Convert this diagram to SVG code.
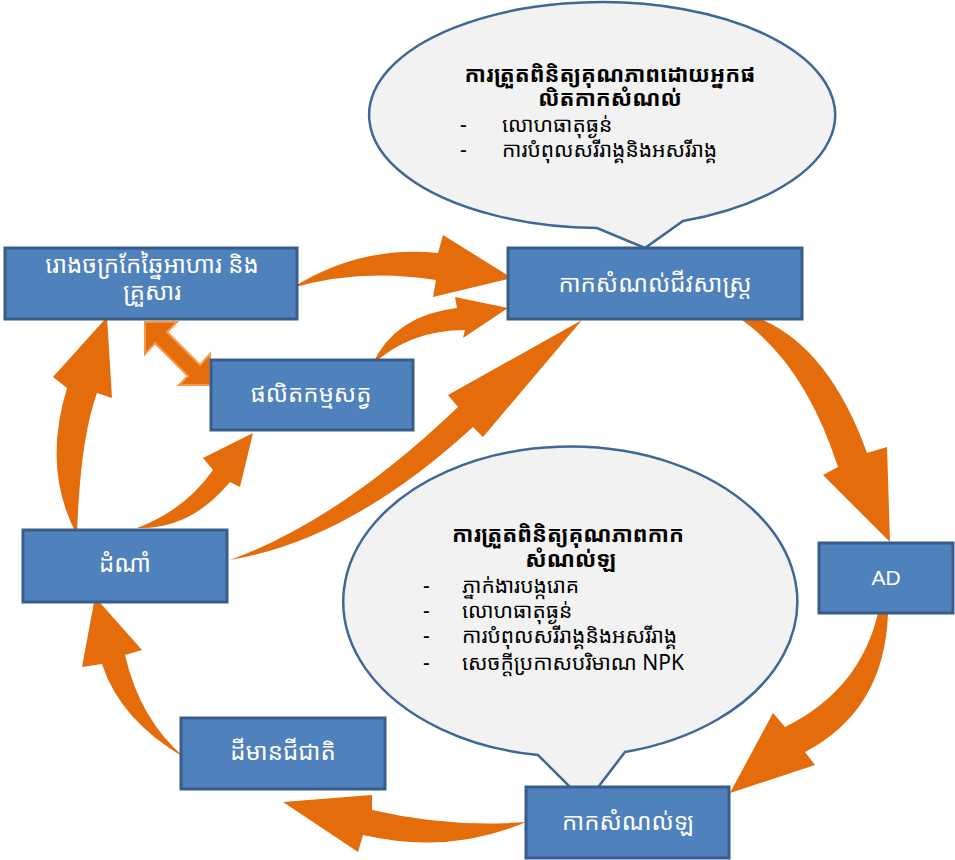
<svg xmlns="http://www.w3.org/2000/svg" width="955" height="860" viewBox="0 0 955 860">
<style>
.box{fill:#4F81BD;stroke:#385D8A;stroke-width:3}
.bt{fill:#FFFFFF;font-family:"Khmer OS","Noto Sans Khmer","Noto Serif Khmer","Liberation Sans",sans-serif;font-size:24px;text-anchor:middle}
.ad{fill:#FFFFFF;font-family:"Liberation Sans",Arial,sans-serif;font-size:21px;text-anchor:middle}
.call{fill:#F2F2F2;stroke:#3F6896;stroke-width:2.5}
.ct{fill:#000000;font-family:"Khmer OS","Noto Sans Khmer","Noto Serif Khmer","Liberation Sans",sans-serif;font-size:21px}
.ctb{font-weight:bold;text-anchor:middle;font-size:22px}
.arr{fill:#E46C0A}
.darr{fill:#E46C0A;stroke:#F79646;stroke-width:2;stroke-linejoin:miter}
</style>
<rect width="955" height="860" fill="#FFFFFF"/>
<g id="connectors">
<path class="arr" d="M292,288 Q360,245 438,253 L443,235 L512,278 L433,297 L436,280 Q360,268 292,288 Z"/>
<path class="arr" d="M372,365 Q395,315 457,308 L455,297 L508,308 L463,338 L465,330 Q410,330 372,365 Z"/>
<path class="arr" d="M230,560 Q340,520 458,407 L448,395 L582,320 L483,437 L473,427 Q350,540 230,560 Z"/>
<path class="arr" d="M742,320 L763,320 Q830,350 867,453 L887,447 L890,542 L823,475 L838,467 Q805,365 742,320 Z"/>
<path class="arr" d="M878,613 L888,613 Q885,710 805,752 L815,765 L730,793 L773,713 L785,727 Q860,690 878,613 Z"/>
<path class="arr" d="M526,822 Q450,828 372,810 L372,795 L283,802 L358,852 L363,835 Q450,855 526,822 Z"/>
<path class="arr" d="M185,758 Q120,720 102,664 L82,667 L95,597 L142,650 L125,655 Q140,720 185,758 Z"/>
<path class="arr" d="M77,535 Q42,470 67,388 L53,377 L107,317 L112,398 L97,393 Q80,440 77,535 Z"/>
<path class="arr" d="M137,528 Q185,510 213,470 L203,458 L253,433 L240,487 L230,482 Q190,530 137,528 Z"/>
<path class="darr" d="M145,322 L177,322 L167,332 L200,365 L210,354 L210,385 L179,385 L188,376 L155,343 L145,354 Z"/>
</g>
<g id="callout-top">
<path class="call" d="M597,228 A233,113 0 1 1 683,221 L645,248 Z"/>
<text class="ct ctb" x="610" y="82">ការត្រួតពិនិត្យគុណភាពដោយអ្នកផ</text>
<text class="ct ctb" x="610" y="106">លិតកាកសំណល់</text>
<text class="ct" x="460" y="132">-</text>
<text class="ct" x="502" y="132">លោហធាតុធ្ងន់</text>
<text class="ct" x="460" y="157">-</text>
<text class="ct" x="502" y="157">ការបំពុលសរីរាង្គនិងអសរីរាង្គ</text>
</g>
<g id="callout-bottom">
<path class="call" d="M538,755 A227,155 0 1 1 625,752 L586,803 Z"/>
<text class="ct ctb" x="568" y="542">ការត្រួតពិនិត្យគុណភាពកាក</text>
<text class="ct ctb" x="571" y="567">សំណល់ឡ</text>
<text class="ct" x="423" y="593">-</text>
<text class="ct" x="462" y="593">ភ្នាក់ងារបង្ករោគ</text>
<text class="ct" x="423" y="618">-</text>
<text class="ct" x="462" y="618">លោហធាតុធ្ងន់</text>
<text class="ct" x="423" y="643">-</text>
<text class="ct" x="462" y="643">ការបំពុលសរីរាង្គនិងអសរីរាង្គ</text>
<text class="ct" x="423" y="670">-</text>
<text class="ct" x="462" y="670">សេចក្តីប្រកាសបរិមាណ NPK</text>
</g>
<g id="node-factory">
<rect class="box" x="5" y="248" width="292" height="71"/>
<text class="bt" x="152" y="273">រោងចក្រកែឆ្នៃអាហារ និង</text>
<text class="bt" x="152" y="300">គ្រួសារ</text>
</g>
<g id="node-livestock">
<rect class="box" x="211" y="360" width="202" height="70"/>
<text class="bt" x="311" y="402">ផលិតកម្មសត្វ</text>
</g>
<g id="node-biowaste">
<rect class="box" x="508" y="248" width="294" height="71"/>
<text class="bt" x="655" y="292">កាកសំណល់ជីវសាស្ត្រ</text>
</g>
<g id="node-ad">
<rect class="box" x="819" y="543" width="134" height="70"/>
<text class="ad" x="886" y="585">AD</text>
</g>
<g id="node-crop">
<rect class="box" x="23" y="530" width="204" height="72"/>
<text class="bt" x="125" y="572">ដំណាំ</text>
</g>
<g id="node-soil">
<rect class="box" x="181" y="718" width="204" height="71"/>
<text class="bt" x="283" y="760">ដីមានជីជាតិ</text>
</g>
<g id="node-digestate">
<rect class="box" x="526" y="787" width="203" height="71"/>
<text class="bt" x="628" y="830">កាកសំណល់ឡ</text>
</g>
</svg>
